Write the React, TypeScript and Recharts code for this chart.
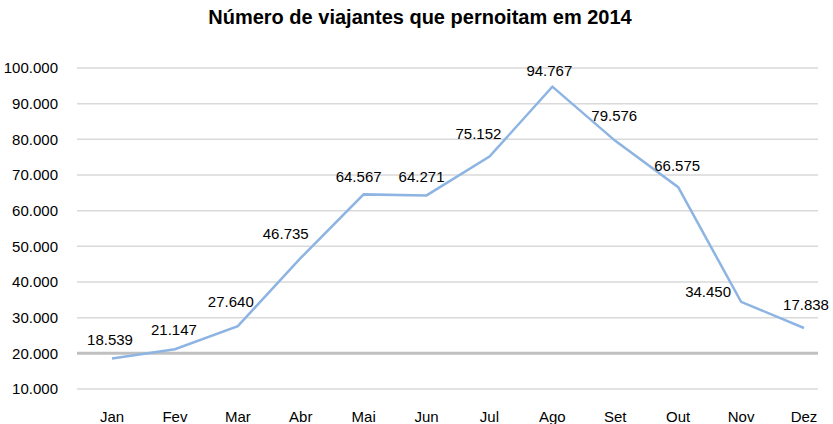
import {
  CartesianGrid,
  LabelList,
  Line,
  LineChart,
  ReferenceLine,
  XAxis,
  YAxis,
} from "recharts";

const months = ["Jan", "Fev", "Mar", "Abr", "Mai", "Jun", "Jul", "Ago", "Set", "Out", "Nov", "Dez"];
const travellers = [18539, 21147, 27640, 46735, 64567, 64271, 75152, 94767, 79576, 66575, 34450, 27100];
const labelTexts = ["18.539", "21.147", "27.640", "46.735", "64.567", "64.271", "75.152", "94.767", "79.576", "66.575", "34.450", "17.838"];
const yTicks = [10000, 20000, 30000, 40000, 50000, 60000, 70000, 80000, 90000, 100000];

// manual label placement (Excel-style), relative to the point
const labelDx = [-2, -1, -7, -15, -5, -5, -11, -3, -1, -1, -33, 2];
const labelDy = [-19, -20, -25, -24, -18, -19, -23, -16, -25, -22, -10, -24];

const data = months.map((m, i) => ({ month: m, value: travellers[i], label: labelTexts[i] }));

const font = "'Liberation Sans Narrow', 'Arial Narrow', 'Liberation Sans', sans-serif";

const fmt = (v: number) => v.toLocaleString("de-DE");

function PointLabel(props: any) {
  const { x, y, index } = props;
  return (
    <text
      x={x + labelDx[index]}
      y={y + labelDy[index]}
      textAnchor="middle"
      dominantBaseline="central"
      fontSize={15}
      fontFamily={font}
      fill="#000"
    >
      {labelTexts[index]}
    </text>
  );
}

export default function App() {
  return (
    <div style={{ position: "absolute", left: 0, top: 0, width: 833, height: 424, background: "#fff" }}>
      <div
        style={{
          position: "absolute",
          left: 0,
          top: 6,
          width: 840,
          textAlign: "center",
          fontFamily: font,
          fontWeight: "bold",
          fontSize: 20,
          color: "#000",
        }}
      >
        Número de viajantes que pernoitam em 2014
      </div>
      <LineChart width={833} height={424} data={data} margin={{ top: 68, right: 15, left: 0, bottom: 0 }}>
        <CartesianGrid vertical={false} stroke="#d9d9d9" strokeWidth={1.5} />
        <XAxis
          dataKey="month"
          scale="point"
          padding={{ left: 35, right: 14 }}
          axisLine={false}
          tickLine={false}
          tickSize={0}
          tickMargin={22}
          height={35}
          tick={{ fontSize: 15, fontFamily: font, fill: "#000" }}
        />
        <YAxis
          domain={[10000, 100000]}
          ticks={yTicks}
          interval={0}
          tickFormatter={fmt}
          axisLine={false}
          tickLine={false}
          tickSize={0}
          tickMargin={19}
          width={77}
          tick={{ fontSize: 15, fontFamily: font, fill: "#000" }}
        />
        <ReferenceLine y={20000} stroke="#c0c0c0" strokeWidth={3} />
        <Line
          type="linear"
          dataKey="value"
          stroke="#8db4e2"
          strokeWidth={2.5}
          dot={false}
          activeDot={false}
          isAnimationActive={false}
        >
          <LabelList dataKey="label" content={<PointLabel />} />
        </Line>
      </LineChart>
    </div>
  );
}
